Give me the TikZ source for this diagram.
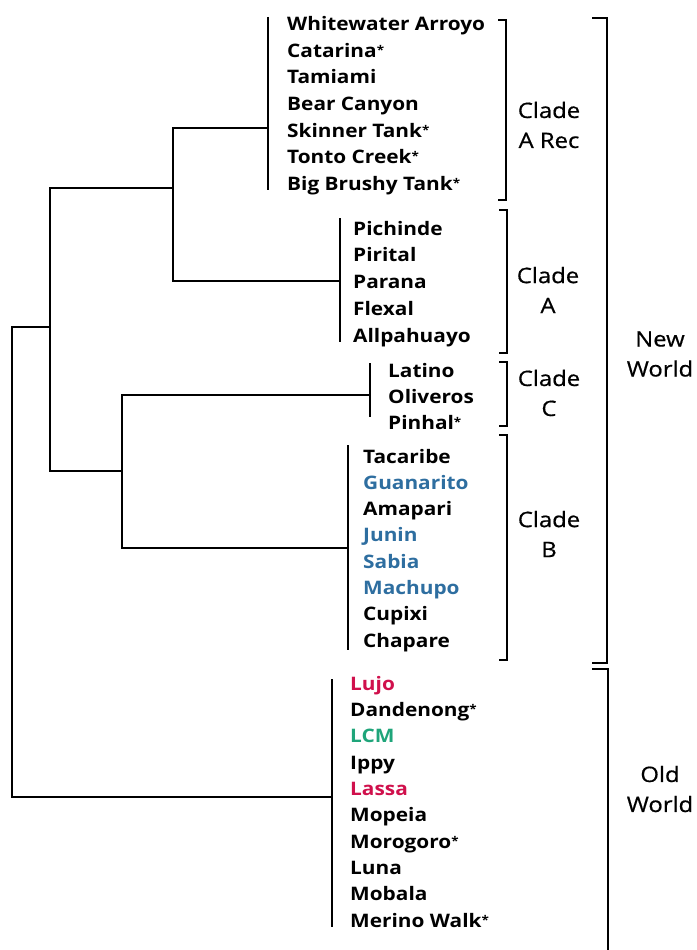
\documentclass[tikz,border=0pt]{standalone}
\usepackage{fontspec}
\setmainfont{Open Sans}[FakeStretch=1.12]
\newfontfamily\cladefont{Open Sans}[FakeStretch=1.12,FakeBold=0.6]
\definecolor{nwblue}{HTML}{2E6EA0}
\definecolor{lred}{HTML}{D0104C}
\definecolor{lcm}{HTML}{1FA57A}
\newcommand{\novel}{\raisebox{3pt}{\fontsize{12}{12}\selectfont *}}
\tikzset{
  tree/.style={line width=2pt, line cap=rect},
  bar/.style={line width=2.2pt},
  bracket/.style={line width=2.6pt},
  taxon/.style={anchor=base west, inner sep=0pt, font=\fontsize{18.6}{20}\bfseries\selectfont},
  cladelab/.style={align=center, inner sep=0pt, font=\cladefont\fontsize{21.3}{30}\selectfont},
}
\begin{document}
\begin{tikzpicture}[x=1pt,y=-1pt]
\useasboundingbox (0,0) rectangle (696,950);
% leaf bars
\coordinate (arT) at (268,17);  \coordinate (arB) at (268,190);
\coordinate (aT) at (340,218);  \coordinate (aB) at (340,342);
\coordinate (cT) at (370,363);  \coordinate (cB) at (370,417);
\coordinate (bT) at (348,445);  \coordinate (bB) at (348,650);
\coordinate (oT) at (332,679);  \coordinate (oB) at (332,927);
\draw[bar] (arT) -- (arB);
\draw[bar] (aT) -- (aB);
\draw[bar] (cT) -- (cB);
\draw[bar] (bT) -- (bB);
\draw[bar] (oT) -- (oB);
% attachment points
\coordinate (ar) at (268,128);
\coordinate (a) at (340,281);
\coordinate (c) at (370,395);
\coordinate (b) at (348,548);
\coordinate (o) at (332,797);
% internal nodes
\coordinate (n2) at (173,188);
\coordinate (n3) at (122,471);
\coordinate (n1) at (50,327);
\coordinate (root) at (12,560);
\draw[tree] (ar) -| (n2) |- (a);
\draw[tree] (c) -| (n3) |- (b);
\draw[tree] (n2) -| (n1) |- (n3);
\draw[tree] (n1) -| (root) |- (o);
% taxa: Clade A Rec
\node[taxon] (t1) at (287,31) {Whitewater Arroyo};
\node[taxon] (t2) at (287,57.5) {Catarina\novel};
\node[taxon] (t3) at (287,84) {Tamiami};
\node[taxon] (t4) at (287,110.5) {Bear Canyon};
\node[taxon] (t5) at (287,137) {Skinner Tank\novel};
\node[taxon] (t6) at (287,163.5) {Tonto Creek\novel};
\node[taxon] (t7) at (287,190) {Big Brushy Tank\novel};
% Clade A
\node[taxon] (t8) at (353,235) {Pichinde};
\node[taxon] (t9) at (353,261.75) {Pirital};
\node[taxon] (t10) at (353,288.5) {Parana};
\node[taxon] (t11) at (353,315.25) {Flexal};
\node[taxon] (t12) at (353,342) {Allpahuayo};
% Clade C
\node[taxon] (t13) at (388,377) {Latino};
\node[taxon] (t14) at (388,403) {Oliveros};
\node[taxon] (t15) at (388,429) {Pinhal\novel};
% Clade B
\node[taxon] (t16) at (363,463) {Tacaribe};
\node[taxon, text=nwblue] (t17) at (363,489.3) {Guanarito};
\node[taxon] (t18) at (363,515.6) {Amapari};
\node[taxon, text=nwblue] (t19) at (363,541.9) {Junin};
\node[taxon, text=nwblue] (t20) at (363,568.1) {Sabia};
\node[taxon, text=nwblue] (t21) at (363,594.4) {Machupo};
\node[taxon] (t22) at (363,620.7) {Cupixi};
\node[taxon] (t23) at (363,647) {Chapare};
% Old World
\node[taxon, text=lred] (t24) at (350,690) {Lujo};
\node[taxon] (t25) at (350,716.3) {Dandenong\novel};
\node[taxon, text=lcm] (t26) at (350,742.7) {LCM};
\node[taxon] (t27) at (350,769) {Ippy};
\node[taxon, text=lred] (t28) at (350,795.3) {Lassa};
\node[taxon] (t29) at (350,821.7) {Mopeia};
\node[taxon] (t30) at (350,848) {Morogoro\novel};
\node[taxon] (t31) at (350,874.3) {Luna};
\node[taxon] (t32) at (350,900.7) {Mobala};
\node[taxon] (t33) at (350,927) {Merino Walk\novel};
% brackets
\draw[bracket] (498,20) -- (506,20) -- (506,200) -- (498,200);
\draw[bracket] (499,210) -- (507,210) -- (507,353) -- (499,353);
\draw[bracket] (499,362) -- (507,362) -- (507,426) -- (499,426);
\draw[bracket] (499,435) -- (507,435) -- (507,660) -- (499,660);
\draw[bracket] (592,18) -- (607,18) -- (607,663) -- (592,663);
\draw[bracket] (592,669) -- (608,669) -- (608,960);
% clade labels
\node[cladelab] (lar) at (549,125) {Clade\\A Rec};
\node[cladelab] (la) at (548,290) {Clade\\A};
\node[cladelab] (lc) at (549,393) {Clade\\C};
\node[cladelab] (lb) at (549,534) {Clade\\B};
\node[cladelab] (lnw) at (660,354) {New\\World};
\node[cladelab] (low) at (660,789) {Old\\World};
\end{tikzpicture}
\end{document}
